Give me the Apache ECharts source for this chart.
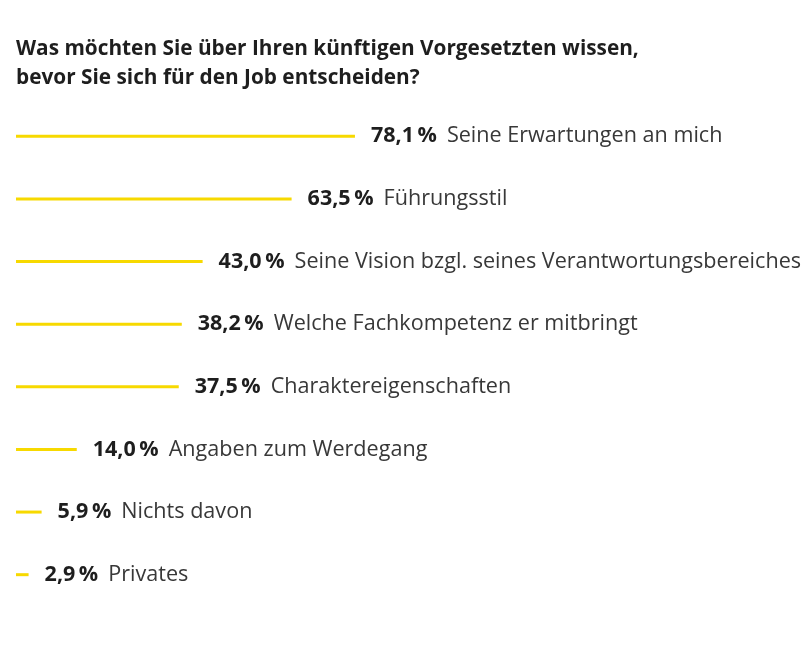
<!DOCTYPE html>
<html><head><meta charset="utf-8">
<script src="https://cdn.jsdelivr.net/npm/echarts@6/dist/echarts.min.js"></script>
<style>html,body{margin:0;padding:0;background:#fff}#c{width:812px;height:650px}</style>
</head><body><div id="c"></div>
<script>
const titleLines = ['Was möchten Sie über Ihren künftigen Vorgesetzten wissen,', 'bevor Sie sich für den Job entscheiden?'];
const categories = ['Seine Erwartungen an mich','Führungsstil','Seine Vision bzgl. seines Verantwortungsbereiches','Welche Fachkompetenz er mitbringt','Charaktereigenschaften','Angaben zum Werdegang','Nichts davon','Privates'];
const values = [78.1, 63.5, 43.0, 38.2, 37.5, 14.0, 5.9, 2.9];

const chart = echarts.init(document.getElementById('c'), null, {renderer:'canvas'});
chart.setOption({
  animation:false,
  backgroundColor:'#fff',
  title:{
    text: titleLines.join('\n'),
    left:11, top:29,
    textStyle:{fontFamily:'Open Sans', fontWeight:'bold', fontSize:20.8, color:'#1e1e1e', lineHeight:29.5}
  },
  grid:{left:16, right:362, top:105, bottom:44, containLabel:false},
  xAxis:{type:'value', min:0, max:100, show:false},
  yAxis:{type:'category', data:categories, inverse:true, show:false},
  series:[{
    type:'bar',
    data:values,
    barWidth:3,
    itemStyle:{color:'#f7d900'},
    label:{
      show:true, position:'right', distance:16,
      fontFamily:'Open Sans', fontSize:22, color:'#333',
      formatter: p => '{v|' + p.value.toFixed(1).replace('.', ',') + '\u2009%}{n|' + categories[p.dataIndex] + '}',
      rich:{
        v:{fontFamily:'Open Sans', fontWeight:'bold', fontSize:21.5, color:'#1e1e1e'},
        n:{fontFamily:'Open Sans', fontSize:21.6, color:'#383838', padding:[0,0,0,10]}
      }
    }
  }]
});
</script></body></html>
